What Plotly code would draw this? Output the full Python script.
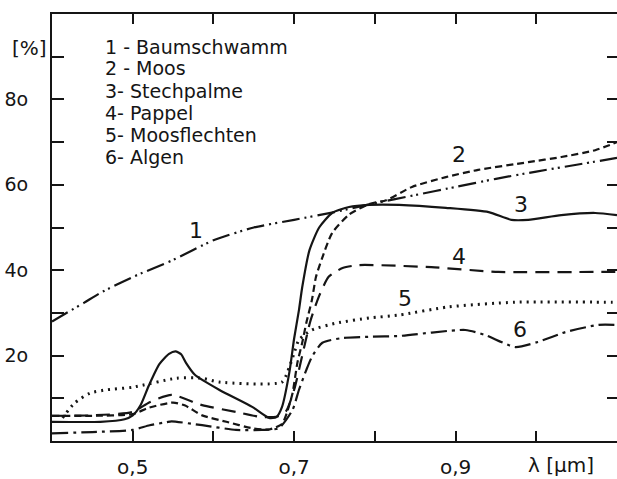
import plotly.graph_objects as go

# Wavelength axis (µm) and reflectance (%) for each surface
lam_baumschwamm = [0.40, 0.42, 0.44, 0.46, 0.50, 0.55, 0.60, 0.65, 0.70, 0.75,
                   0.80, 0.85, 0.90, 0.95, 1.00, 1.05, 1.10]
r_baumschwamm = [28.0, 30.2, 32.4, 34.7, 38.4, 42.4, 47.0, 50.0, 51.8, 53.6,
                 55.7, 57.6, 59.5, 61.4, 63.1, 64.7, 66.3]

lam_moos = [0.40, 0.45, 0.50, 0.52, 0.55, 0.565, 0.586, 0.616, 0.648, 0.669,
            0.685, 0.691, 0.698, 0.704, 0.710, 0.715, 0.722, 0.727, 0.735,
            0.747, 0.768, 0.793, 0.814, 0.846, 0.888, 0.928, 0.990, 1.031,
            1.073, 1.100]
r_moos = [5.9, 5.9, 6.3, 7.8, 9.0, 8.3, 6.0, 4.5, 3.0, 2.7,
          4.0, 6.6, 11.2, 18.3, 23.0, 27.6, 33.0, 38.4, 43.0,
          48.7, 53.0, 55.5, 56.4, 59.5, 61.8, 63.5, 65.3, 66.5,
          68.1, 70.0]

lam_stechpalme = [0.40, 0.46, 0.49, 0.50, 0.51, 0.52, 0.533, 0.545, 0.553,
                  0.56, 0.566, 0.577, 0.607, 0.648, 0.669, 0.678, 0.685,
                  0.694, 0.700, 0.706, 0.710, 0.719, 0.731, 0.747, 0.768,
                  0.793, 0.830, 0.888, 0.941, 0.969, 0.990, 1.031, 1.073,
                  1.100]
r_stechpalme = [4.5, 4.5, 5.1, 6.0, 8.5, 13.0, 18.0, 20.4, 21.0,
                20.3, 18.3, 15.5, 12.0, 8.0, 5.4, 5.6, 8.0,
                16.0, 24.0, 30.7, 36.0, 44.7, 50.0, 53.4, 54.8,
                55.3, 55.3, 54.6, 53.6, 51.8, 51.8, 52.9, 53.4,
                52.9]

lam_pappel = [0.40, 0.45, 0.50, 0.521, 0.548, 0.586, 0.628, 0.660, 0.680,
              0.690, 0.700, 0.710, 0.720, 0.731, 0.743, 0.760, 0.780, 0.870,
              0.953, 1.077, 1.100]
r_pappel = [5.9, 6.0, 6.8, 9.1, 10.8, 8.4, 6.8, 5.6, 5.8,
            7.0, 12.0, 20.0, 28.0, 34.0, 38.5, 40.5, 41.2, 40.7,
            39.6, 39.6, 39.6]

lam_moosflechten = [0.413, 0.428, 0.447, 0.468, 0.50, 0.554, 0.586, 0.607,
                    0.685, 0.694, 0.700, 0.706, 0.722, 0.752, 0.793, 0.830,
                    0.891, 0.974, 1.093, 1.100]
r_moosflechten = [5.4, 8.9, 11.2, 12.0, 12.6, 14.7, 14.7, 13.8,
                  13.8, 17.3, 20.6, 23.7, 26.0, 27.6, 28.8, 29.5,
                  31.4, 32.5, 32.5, 32.5]

lam_algen = [0.40, 0.45, 0.50, 0.521, 0.542, 0.548, 0.586, 0.628, 0.660,
             0.681, 0.698, 0.706, 0.715, 0.722, 0.735, 0.759, 0.793, 0.830,
             0.912, 0.937, 0.974, 1.002, 1.036, 1.077, 1.100]
r_algen = [1.8, 2.1, 2.6, 3.7, 4.4, 4.6, 3.7, 2.6, 2.6,
           3.0, 7.3, 12.0, 16.6, 19.7, 23.0, 24.1, 24.4, 24.6,
           26.0, 24.8, 22.0, 23.2, 25.5, 27.2, 27.2]

# Curve number labels: (number, wavelength, reflectance)
curve_labels = [("1", 0.579, 49.4), ("2", 0.904, 67.0), ("3", 0.981, 55.3),
                ("4", 0.904, 43.1), ("5", 0.837, 33.3), ("6", 0.980, 26.0)]

key_lines = ["1 - Baumschwamm", "2 - Moos", "3- Stechpalme", "4- Pappel",
             "5- Moosflechten", "6- Algen"]
key_y = [92.3, 87.4, 82.0, 76.8, 71.7, 66.5]

y_tickvals = [10, 20, 30, 40, 50, 60, 70, 80, 90]
y_ticktext = ["", "2o", "", "4o", "", "6o", "", "8o", ""]
x_tickvals = [0.5, 0.6, 0.7, 0.8, 0.9, 1.0]
x_ticktext = ["o,5", "", "o,7", "", "o,9", ""]

INK = "#151515"
FONT = "DejaVu Sans"

series = [
    (lam_baumschwamm, r_baumschwamm, "18px,5px,2px,4px,2px,5px", 2.2),
    (lam_moos, r_moos, "7px,4px", 2.2),
    (lam_stechpalme, r_stechpalme, "solid", 2.2),
    (lam_pappel, r_pappel, "14px,8px", 2.2),
    (lam_moosflechten, r_moosflechten, "2px,5px", 3.0),
    (lam_algen, r_algen, "16px,5px,3px,5px", 2.2),
]

fig = go.Figure()
for lam, r, dash, w in series:
    fig.add_trace(go.Scatter(
        x=lam, y=r, mode="lines",
        line=dict(color=INK, width=w, dash=dash, shape="spline", smoothing=0.6),
        showlegend=False, hoverinfo="skip",
    ))

# carrier trace for the right-hand tick axis
fig.add_trace(go.Scatter(x=[0.4], y=[0], yaxis="y2", mode="lines",
                         line=dict(width=0), showlegend=False, hoverinfo="skip"))

annotations = []
for num, xl, yl in curve_labels:
    annotations.append(dict(x=xl, y=yl, text=num, showarrow=False,
                            font=dict(family=FONT, size=22, color=INK),
                            xanchor="center", yanchor="middle"))
for txt, yk in zip(key_lines, key_y):
    annotations.append(dict(x=0.463, y=yk, text=txt, showarrow=False,
                            font=dict(family=FONT, size=19, color=INK),
                            xanchor="left", yanchor="middle"))
annotations.append(dict(xref="paper", x=-0.04, y=92.0, text="[%]", showarrow=False,
                        font=dict(family=FONT, size=20, color=INK),
                        xanchor="center", yanchor="middle"))
annotations.append(dict(x=1.031, yref="paper", y=-0.056, text="λ [µm]", showarrow=False,
                        font=dict(family=FONT, size=20, color=INK),
                        xanchor="center", yanchor="middle"))

fig.update_layout(
    width=617, height=479,
    margin=dict(l=52, r=0, t=14, b=38),
    paper_bgcolor="white", plot_bgcolor="white",
    font=dict(family=FONT, size=19, color=INK),
    annotations=annotations,
    xaxis=dict(range=[0.4, 1.1], tickvals=x_tickvals, ticktext=x_ticktext,
               ticks="inside", ticklen=10, tickwidth=2, tickcolor=INK,
               showline=True, linewidth=2, linecolor=INK, mirror="ticks",
               showgrid=False, zeroline=False, ticklabelstandoff=7,
               tickfont=dict(family=FONT, size=20, color=INK)),
    yaxis=dict(range=[0, 100], tickvals=y_tickvals, ticktext=y_ticktext,
               ticks="inside", ticklen=12, tickwidth=2, tickcolor=INK,
               showline=True, linewidth=2, linecolor=INK,
               showgrid=False, zeroline=False, ticklabelstandoff=18,
               tickfont=dict(family=FONT, size=19, color=INK)),
    yaxis2=dict(range=[0, 100], overlaying="y", side="right", anchor="x",
                tickvals=y_tickvals, ticks="inside", ticklen=10, tickwidth=2,
                tickcolor=INK, showline=False, showgrid=False, zeroline=False,
                showticklabels=False),
)

fig.write_html("out.html")
